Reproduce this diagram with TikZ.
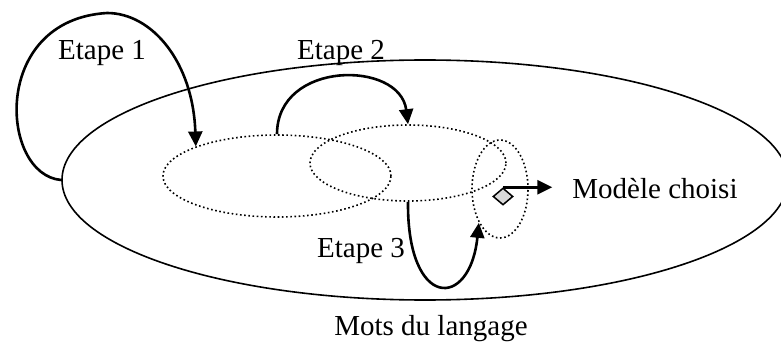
\documentclass[tikz,border=0pt]{standalone}
\usepackage{fontspec}
\setmainfont{Liberation Serif}
\usetikzlibrary{arrows.meta,shapes.geometric}
\tikzset{
  ensemble/.style={ellipse,draw,inner sep=0pt,line width=1.6pt,
    dash pattern=on 1.6pt off 2.6pt},
  etape/.style={line width=2.6pt,-{Triangle[length=15pt,width=14pt]}},
  label/.style={font=\fontsize{29}{34}\selectfont,inner sep=0pt,anchor=base}
}
\begin{document}
\begin{tikzpicture}[x=1pt,y=-1pt]
      \useasboundingbox[fill=white] (0,0) rectangle (781,342);
      \node[ellipse,draw,line width=1.6pt,inner sep=0pt,
        minimum width=726pt,minimum height=240pt] (langage) at (425,180) {};
      \node[ensemble,minimum width=228pt,minimum height=82pt] (ens1) at (277,176) {};
      \node[ensemble,minimum width=196pt,minimum height=76pt] (ens2) at (408,163) {};
      \node[ensemble,minimum width=56pt,minimum height=98pt] (ens3) at (500,189) {};
      \node[diamond,draw,fill=gray!30,line width=1.5pt,inner sep=0pt,
        minimum width=20pt,minimum height=17pt] (choix) at (503,196.5) {};
      \draw
        (102,60) node[label] (e1){Etape 1}
        (341,60) node[label] (e2){Etape 2}
        (361,257) node[label] (e3){Etape 3}
        (655,198) node[label] (modele){Modèle choisi}
        (431,335) node[label] (mots){Mots du langage};
      \begin{scope}[etape]
        \draw (langage.west) .. controls (0,175) and (-10,20) .. (107,13)
          .. controls (152,13) and (193,62) .. (ens1.160);
        \draw (ens1.north) .. controls (277,60) and (400,60) .. (ens2.north);
        \draw (ens2.south) .. controls (407,310) and (470,310) .. (ens3.238);
        \draw[shorten >=20pt] (choix.north) -- (choix.north -| modele.west);
      \end{scope}
    \end{tikzpicture}
\end{document}
